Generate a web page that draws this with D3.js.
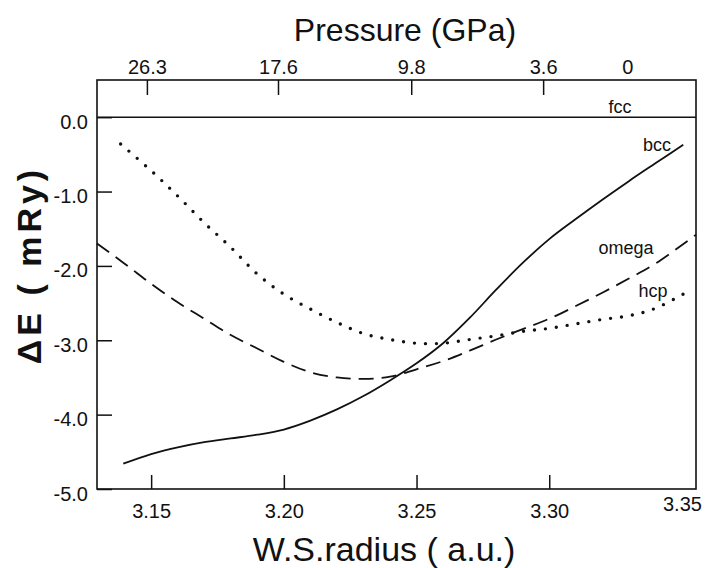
<!DOCTYPE html>
<html>
<head>
<meta charset="utf-8">
<script src="https://cdn.jsdelivr.net/npm/d3@7"></script>
<style>
  body { margin: 0; background: #fff; }
  .frame { fill: none; stroke: #111; stroke-width: 1.6; }
  .tick line { stroke: #111; stroke-width: 1.5; }
  .tick text { font-family: "Liberation Sans", sans-serif; font-size: 20px; fill: #111; }
  .curve { fill: none; stroke: #111; }
  .lbl { font-family: "Liberation Sans", sans-serif; font-size: 18px; fill: #111; }
  .title { font-family: "Liberation Sans", sans-serif; fill: #111; }
</style>
</head>
<body>
<div id="chart"></div>
<script>
var width = 706,
    height = 568;

// W.S. radius (a.u.) and energy differences (mRy) relative to fcc
var fccRadius = [3.1296, 3.3553];
var fccEnergy = [0, 0];

var bccRadius = [3.1395, 3.15, 3.16, 3.17, 3.18, 3.19, 3.20, 3.21, 3.22, 3.23, 3.24,
                 3.25, 3.26, 3.27, 3.28, 3.29, 3.30, 3.31, 3.32, 3.33, 3.34, 3.3505];
var bccEnergy = [-4.66, -4.53, -4.44, -4.37, -4.32, -4.27, -4.20, -4.08, -3.93, -3.75, -3.54,
                 -3.31, -3.04, -2.70, -2.32, -1.96, -1.64, -1.37, -1.11, -0.86, -0.62, -0.37];

var omegaRadius = [3.1296, 3.14, 3.15, 3.16, 3.17, 3.18, 3.19, 3.20, 3.21, 3.22, 3.23, 3.24,
                   3.25, 3.26, 3.27, 3.28, 3.29, 3.30, 3.31, 3.32, 3.33, 3.34, 3.3553];
var omegaEnergy = [-1.70, -1.97, -2.24, -2.49, -2.71, -2.93, -3.11, -3.29, -3.43, -3.50, -3.52, -3.49,
                   -3.39, -3.28, -3.14, -2.99, -2.85, -2.71, -2.54, -2.36, -2.17, -1.97, -1.58];

var hcpRadius = [3.1385, 3.15, 3.16, 3.17, 3.18, 3.19, 3.20, 3.21, 3.22, 3.23, 3.24,
                 3.25, 3.26, 3.27, 3.28, 3.29, 3.30, 3.31, 3.32, 3.33, 3.34, 3.3539];
var hcpEnergy = [-0.36, -0.72, -1.06, -1.42, -1.75, -2.11, -2.38, -2.58, -2.76, -2.91, -2.99,
                 -3.04, -3.04, -2.99, -2.94, -2.88, -2.84, -2.78, -2.72, -2.67, -2.57, -2.31];

// axis ticks
var radiusTicks = [3.15, 3.20, 3.25, 3.30, 3.35];
var energyTicks = [0, -1, -2, -3, -4, -5];
var energyLabels = ["0.0", "-1.0", "-2.0", "-3.0", "-4.0", "-5.0"];
var pressureRadius = [3.1484, 3.1978, 3.2480, 3.2977, 3.3294];
var pressureLabels = ["26.3", "17.6", "9.8", "3.6", "0"];

var x = d3.scaleLinear().domain([3.1296, 3.3553]).range([97, 696]);
var y = d3.scaleLinear().domain([-5, 0.5]).range([489, 80]);

var svg = d3.select("#chart").append("svg")
    .attr("width", width)
    .attr("height", height);

function zip(a, b) {
  return a.map(function(d, i) { return [d, b[i]]; });
}

// frame
svg.append("rect")
    .attr("class", "frame")
    .attr("x", x.range()[0])
    .attr("y", y.range()[1])
    .attr("width", x.range()[1] - x.range()[0])
    .attr("height", y.range()[0] - y.range()[1]);

// bottom axis
svg.append("g")
    .attr("transform", "translate(0," + y.range()[0] + ")")
    .call(d3.axisBottom(x).tickValues(radiusTicks).tickSize(-14).tickPadding(15)
      .tickFormat(d3.format(".2f")))
    .call(function(g) { g.select(".domain").remove(); })
    .call(function(g) {
      g.selectAll(".tick").filter(function(d) { return d === 3.35; })
        .select("line").remove();
      g.selectAll(".tick").filter(function(d) { return d === 3.35; })
        .select("text").attr("dy", "0.35em");
    });

// left axis
svg.append("g")
    .attr("transform", "translate(" + x.range()[0] + ",0)")
    .call(d3.axisLeft(y).tickValues(energyTicks).tickSize(-15).tickPadding(9)
      .tickFormat(function(d, i) { return energyLabels[i]; }))
    .call(function(g) { g.select(".domain").remove(); })
    .call(function(g) { g.selectAll(".tick text").attr("dy", "0.55em"); });

// top axis (pressure)
var xp = d3.scaleLinear().domain(x.domain()).range(x.range());
svg.append("g")
    .attr("transform", "translate(0," + y.range()[1] + ")")
    .call(d3.axisTop(xp).tickValues(pressureRadius).tickSize(-15).tickPadding(6)
      .tickFormat(function(d, i) { return pressureLabels[i]; }))
    .call(function(g) { g.select(".domain").remove(); })
    .call(function(g) {
      g.selectAll(".tick").filter(function(d, i) { return pressureLabels[i] === "0"; })
        .select("line").remove();
    });

// curves
var line = d3.line()
    .x(function(d) { return x(d[0]); })
    .y(function(d) { return y(d[1]); })
    .curve(d3.curveCatmullRom);

svg.append("path")
    .datum(zip(fccRadius, fccEnergy))
    .attr("class", "curve")
    .attr("stroke-width", 1.6)
    .attr("d", line);

svg.append("path")
    .datum(zip(bccRadius, bccEnergy))
    .attr("class", "curve")
    .attr("stroke-width", 1.8)
    .attr("d", line);

svg.append("path")
    .datum(zip(omegaRadius, omegaEnergy))
    .attr("class", "curve")
    .attr("stroke-width", 1.8)
    .attr("stroke-dasharray", "15,8")
    .attr("d", line);

svg.append("path")
    .datum(zip(hcpRadius, hcpEnergy))
    .attr("class", "curve")
    .attr("stroke-width", 3.4)
    .attr("stroke-linecap", "round")
    .attr("stroke-dasharray", "0,11")
    .attr("d", line);

// curve labels
svg.append("text").attr("class", "lbl").attr("x", 620).attr("y", 113)
    .attr("text-anchor", "middle").text("fcc");
svg.append("text").attr("class", "lbl").attr("x", 657).attr("y", 151)
    .attr("text-anchor", "middle").text("bcc");
svg.append("text").attr("class", "lbl").attr("x", 626).attr("y", 254)
    .attr("text-anchor", "middle").text("omega");
svg.append("text").attr("class", "lbl").attr("x", 653).attr("y", 297)
    .attr("text-anchor", "middle").text("hcp");

// titles
svg.append("text").attr("class", "title")
    .attr("x", 405).attr("y", 41)
    .attr("text-anchor", "middle")
    .style("font-size", "32px")
    .text("Pressure (GPa)");

svg.append("text").attr("class", "title")
    .attr("x", 384).attr("y", 561)
    .attr("text-anchor", "middle")
    .style("font-size", "34px")
    .text("W.S.radius ( a.u.)");

svg.append("text").attr("class", "title")
    .attr("transform", "translate(41,265) rotate(-90)")
    .attr("text-anchor", "middle")
    .style("font-size", "34px")
    .style("font-weight", "bold")
    .style("letter-spacing", "4px")
    .text("ΔE ( mRy)");
</script>
</body>
</html>
